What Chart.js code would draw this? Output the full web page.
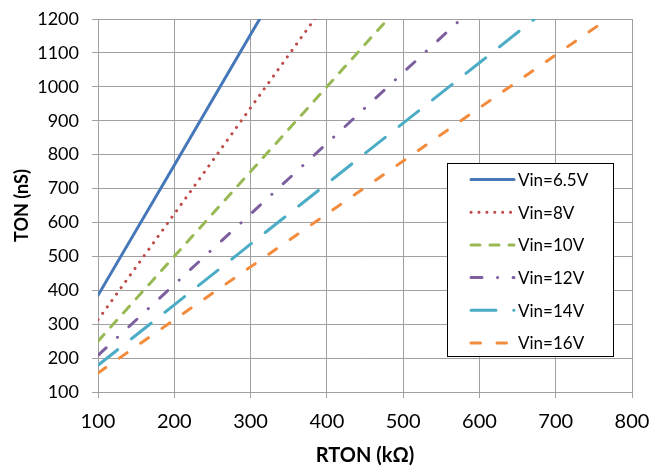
<!DOCTYPE html>
<html>
<head>
<meta charset="utf-8">
<script src="https://cdn.jsdelivr.net/npm/chart.js@4.4.0/dist/chart.umd.min.js"></script>
<style>
  html, body { margin: 0; padding: 0; background: #fff; }
</style>
</head>
<body>
<canvas id="ton" width="652" height="466"></canvas>
<script>
// RTON (kOhm) sample points, TON (nS) per input voltage
const rton = [100, 200, 300, 400, 500, 600, 700, 800];
const vinLabels = ['Vin=6.5V', 'Vin=8V', 'Vin=10V', 'Vin=12V', 'Vin=14V', 'Vin=16V'];
const ton65 = [385, 769, 1154, 1538];
const ton8 = [313, 625, 938, 1250];
const ton10 = [250, 500, 750, 1000, 1250];
const ton12 = [208, 417, 625, 833, 1042, 1250];
const ton14 = [179, 357, 536, 714, 893, 1071, 1250];
const ton16 = [156, 313, 469, 625, 781, 938, 1094, 1250];
const xTicks = [100, 200, 300, 400, 500, 600, 700, 800];
const yTicks = [100, 200, 300, 400, 500, 600, 700, 800, 900, 1000, 1100, 1200];

const FONT = 'Lato, "Open Sans", sans-serif';

function pts(vals) {
    return vals.map((v, i) => ({ x: rton[i], y: v }));
}

// legend box drawn inside the plot, like the original
const boxLegend = {
    id: 'boxLegend',
    afterDraw(chart) {
        const ctx = chart.ctx;
        const area = chart.chartArea;
        const w = 166, h = 193;
        const left = Math.round(area.right - 19 - w);
        const top = Math.round(area.top + 144);
        ctx.save();
        ctx.fillStyle = '#fff';
        ctx.fillRect(left, top, w, h);
        ctx.strokeStyle = '#000';
        ctx.lineWidth = 1;
        ctx.strokeRect(left + 0.5, top + 0.5, w, h);
        chart.data.datasets.forEach((ds, i) => {
            const y = top + 16.5 + i * 32.7;
            ctx.strokeStyle = ds.borderColor;
            ctx.lineWidth = ds.borderWidth;
            ctx.lineCap = ds.borderCapStyle;
            ctx.setLineDash(ds.borderDash);
            ctx.beginPath();
            ctx.moveTo(left + 24, y);
            ctx.lineTo(left + 67, y);
            ctx.stroke();
            ctx.setLineDash([]);
            ctx.fillStyle = '#000';
            ctx.font = '17px ' + FONT;
            ctx.textBaseline = 'middle';
            ctx.fillText(ds.label, left + 71, y + 1);
        });
        ctx.restore();
    }
};

function series(label, vals, color, dash) {
    return {
        label: label,
        data: pts(vals),
        borderColor: color,
        backgroundColor: color,
        borderWidth: 3,
        borderDash: dash,
        borderCapStyle: 'round',
        pointRadius: 0,
        tension: 0,
        clip: 0
    };
}

let tonCtx = document.getElementById('ton').getContext('2d');
let tonChart = new Chart(tonCtx, {
    type: 'line',
    data: {
        datasets: [
            series(vinLabels[0], ton65, '#4677B8', []),
            series(vinLabels[1], ton8, '#BE4B48', [0.1, 7.8]),
            series(vinLabels[2], ton10, '#98B954', [9, 10]),
            series(vinLabels[3], ton12, '#7D5FA0', [11, 15.5, 0.1, 15.5]),
            series(vinLabels[4], ton14, '#4AACC5', [25, 17.7]),
            series(vinLabels[5], ton16, '#F38B3C', [9.5, 16.5])
        ]
    },
    options: {
        responsive: false,
        devicePixelRatio: 1,
        animation: false,
        layout: { padding: { left: 0, top: 19, right: 20, bottom: 0 } },
        plugins: {
            legend: { display: false },
            tooltip: { enabled: false }
        },
        scales: {
            x: {
                type: 'linear',
                min: 100,
                max: 800,
                afterBuildTicks: s => { s.ticks = xTicks.map(v => ({ value: v })); },
                afterFit: s => { s.height = 74; s.paddingLeft = 0; s.paddingRight = 0; },
                grid: { color: '#A0A0A0', lineWidth: 1, tickLength: 6 },
                border: { color: '#A0A0A0' },
                ticks: { color: '#000', font: { family: FONT, size: 20 }, padding: 12, maxRotation: 0,
                         callback: v => String(v) },
                title: {
                    display: true,
                    text: 'RTON (kΩ)',
                    color: '#000',
                    font: { family: FONT, size: 20, weight: 'bold' },
                    padding: { top: 0, bottom: -2 }
                }
            },
            y: {
                type: 'linear',
                min: 100,
                max: 1200,
                afterBuildTicks: s => { s.ticks = yTicks.map(v => ({ value: v })); },
                afterFit: s => { s.width = 98; s.paddingTop = 0; s.paddingBottom = 0; },
                grid: { color: '#A0A0A0', lineWidth: 1, tickLength: 6 },
                border: { color: '#A0A0A0' },
                ticks: { color: '#000', font: { family: FONT, size: 18 }, padding: 13,
                         callback: v => String(v) },
                title: {
                    display: true,
                    text: 'TON (nS)',
                    color: '#000',
                    font: { family: FONT, size: 18, weight: 'bold' },
                    padding: { top: 11, bottom: 0 }
                }
            }
        }
    },
    plugins: [boxLegend]
});
</script>
</body>
</html>
